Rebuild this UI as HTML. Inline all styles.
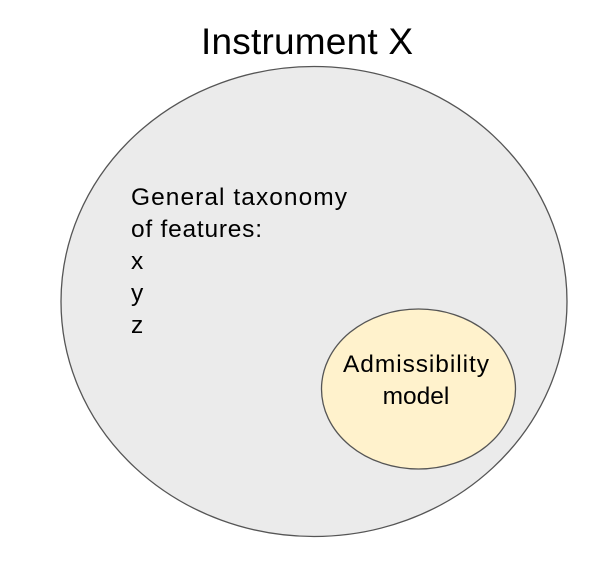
<!DOCTYPE html>
<html><head><style>body{margin:0;background:#fff}</style></head><body>
<svg width="602" height="561" xmlns="http://www.w3.org/2000/svg" font-family="Liberation Sans, Arial, sans-serif">
<rect width="602" height="561" fill="#fff"/>
<text x="201" y="54" font-size="37" textLength="212" lengthAdjust="spacing" fill="#000">Instrument X</text>
<ellipse cx="314" cy="301.5" rx="253" ry="235" fill="#ebebeb" stroke="#555" stroke-width="1.3"/>
<ellipse cx="418.5" cy="389" rx="97" ry="80" fill="#fff2cc" stroke="#555" stroke-width="1.3"/>
<g font-size="24.5" fill="#000">
<text x="131" y="205" textLength="216" lengthAdjust="spacing">General taxonomy</text>
<text x="131" y="237" textLength="131" lengthAdjust="spacing">of features:</text>
<text x="131" y="269">x</text>
<text x="131" y="301">y</text>
<text x="131" y="333">z</text>
<text x="343" y="372" textLength="146" lengthAdjust="spacing">Admissibility</text>
<text x="416" y="404" text-anchor="middle">model</text>
</g>
</svg>
</body></html>
